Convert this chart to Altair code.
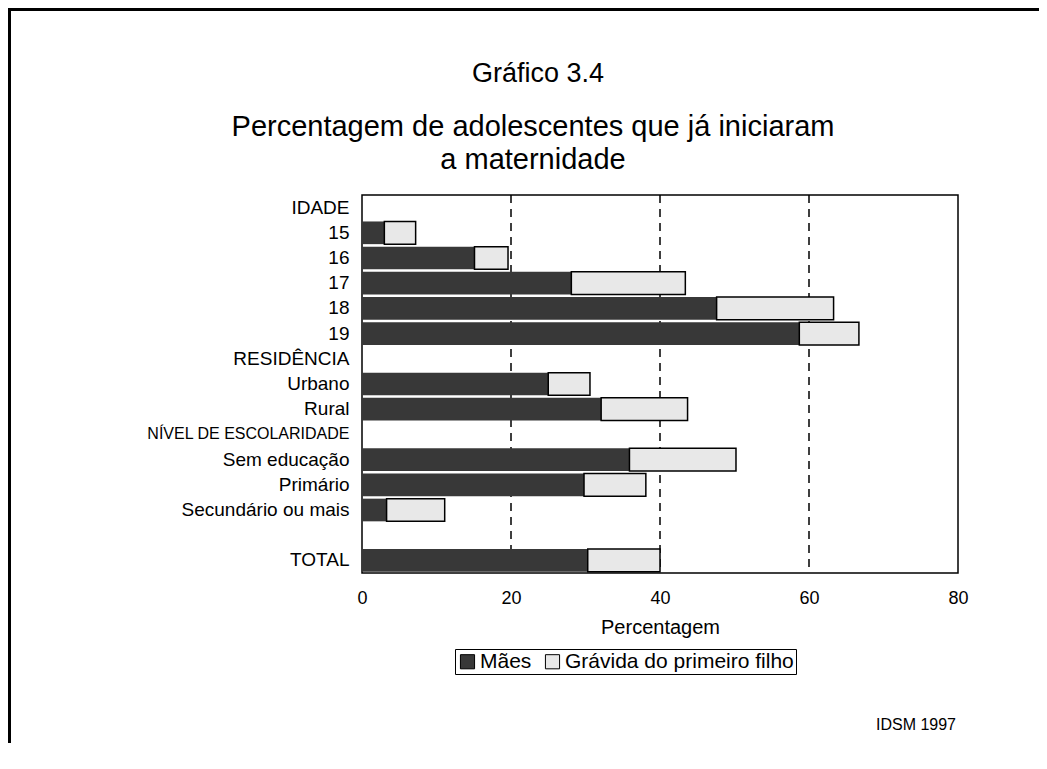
import altair as alt
import pandas as pd

categories = ["IDADE", "15", "16", "17", "18", "19", "RESIDÊNCIA", "Urbano", "Rural",
              "NÍVEL DE ESCOLARIDADE", "Sem educação", "Primário", "Secundário ou mais",
              " ", "TOTAL"]
maes = [None, 3.0, 15.1, 28.1, 47.6, 58.7, None, 25.0, 32.1, None, 35.9, 29.8, 3.3, None, 30.3]
gravida = [None, 4.2, 4.5, 15.3, 15.7, 8.0, None, 5.6, 11.6, None, 14.3, 8.3, 7.8, None, 9.7]
series = ["Mães", "Grávida do primeiro filho"]
x_ticks = [0, 20, 40, 60, 80]
grid_values = [20, 40, 60]
title_lines = ["Gráfico 3.4", "Percentagem de adolescentes que já iniciaram", "a maternidade"]
source_note = "IDSM 1997"

rows = []
for c, m, g in zip(categories, maes, gravida):
    if m is None:
        continue
    rows.append({"cat": c, "serie": series[0], "start": 0.0, "end": m})
    rows.append({"cat": c, "serie": series[1], "start": m, "end": m + g})
df = pd.DataFrame(rows)

FONT = "Liberation Sans"

xscale = alt.Scale(domain=[0, 80], nice=False)

grid = alt.Chart(pd.DataFrame({"v": grid_values})).mark_rule(
    color="black", strokeWidth=1.5, strokeDash=[8, 6]
).encode(x=alt.X("v:Q", scale=xscale))

bars = alt.Chart(df).mark_bar(strokeWidth=1.5).encode(
    y=alt.Y("cat:N", sort=categories,
            scale=alt.Scale(domain=categories, paddingInner=0.1, paddingOuter=0.05),
            axis=alt.Axis(title=None, ticks=False, domain=False,
                          labelFontSize={"condition": {"test": "datum.value == 'NÍVEL DE ESCOLARIDADE'",
                                                       "value": 16}, "value": 19},
                          labelFont=FONT, labelColor="black", labelPadding=13,
                          labelLimit=400)),
    x=alt.X("start:Q", scale=xscale,
            axis=alt.Axis(title="Percentagem", values=x_ticks, ticks=False, domain=False,
                          grid=False, labelFlush=False,
                          labelFontSize=18, labelFont=FONT, labelColor="black",
                          labelPadding=16, titleFontSize=20, titleFont=FONT,
                          titleFontWeight="normal", titleColor="black", titlePadding=10)),
    x2="end:Q",
    color=alt.Color("serie:N", sort=series,
                    scale=alt.Scale(domain=series, range=["#383838", "#e8e8e8"]),
                    legend=alt.Legend(title=None, orient="none", legendX=93, legendY=454,
                                      direction="horizontal", symbolType="square",
                                      symbolSize=200, symbolStrokeColor="black",
                                      symbolStrokeWidth=1, labelFontSize=21,
                                      labelFont=FONT, labelColor="black", labelLimit=500,
                                      strokeColor="black", padding=2,
                                      columnPadding=10, labelOffset=2)),
    stroke=alt.condition(alt.datum.serie == series[1], alt.value("black"),
                         alt.value("transparent")),
)

note = alt.Chart(pd.DataFrame({"t": [source_note]})).mark_text(
    align="right", baseline="middle", fontSize=16, font=FONT, color="black"
).encode(text="t:N", x=alt.value(594), y=alt.value(530))

t1 = alt.Chart(pd.DataFrame({"t": [title_lines[0]]})).mark_text(
    align="center", baseline="middle", fontSize=27, font=FONT, color="black"
).encode(text="t:N", x=alt.value(176), y=alt.value(-121))
t2 = alt.Chart(pd.DataFrame({"t": [title_lines[1]]})).mark_text(
    align="center", baseline="middle", fontSize=29, font=FONT, color="black"
).encode(text="t:N", x=alt.value(171), y=alt.value(-68))
t3 = alt.Chart(pd.DataFrame({"t": [title_lines[2]]})).mark_text(
    align="center", baseline="middle", fontSize=29, font=FONT, color="black"
).encode(text="t:N", x=alt.value(171), y=alt.value(-35))

frame_top = alt.Chart(pd.DataFrame({"a": [0]})).mark_rule(color="black", strokeWidth=3).encode(
    x=alt.value(-354), x2=alt.value(700), y=alt.value(-185.5))
frame_left = alt.Chart(pd.DataFrame({"a": [0]})).mark_rule(color="black", strokeWidth=3).encode(
    x=alt.value(-352.5), y=alt.value(-187), y2=alt.value(600))

chart = alt.layer(grid, bars, note, t1, t2, t3, frame_top, frame_left).properties(
    width=596, height=378,
    autosize=alt.AutoSizeParams(type="none"),
    padding={"left": 354, "top": 187, "right": 81, "bottom": 170},
).configure_view(stroke="black", strokeWidth=1.5)

chart.save("out.html", embed_options={"renderer": "svg", "actions": False})
